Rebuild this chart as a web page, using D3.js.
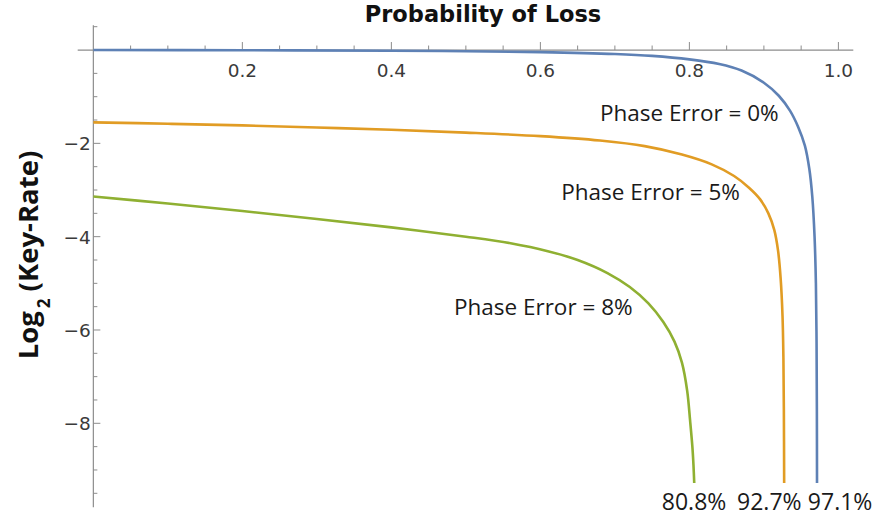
<!DOCTYPE html>
<html><head><meta charset="utf-8">
<script src="https://cdn.jsdelivr.net/npm/d3@7"></script>
<style>body{margin:0;background:#fff}svg{display:block}</style></head>
<body>
<script>
// ---- data ----
const blueLoss = [0, 0.2, 0.4, 0.5, 0.6, 0.7, 0.75, 0.8, 0.84, 0.87, 0.9, 0.92, 0.935, 0.946, 0.955, 0.961, 0.965, 0.968, 0.9698, 0.9707, 0.9711, 0.9713];
const blueRate = [0, -0.005, -0.015, -0.025, -0.045, -0.085, -0.125, -0.2, -0.3, -0.44, -0.7, -0.98, -1.3, -1.65, -2.05, -2.55, -3.15, -4.0, -5.0, -6.3, -7.7, -9.28];

const orangeLoss = [0, 0.1, 0.2, 0.3, 0.4, 0.5, 0.6, 0.68, 0.74, 0.79, 0.83, 0.86, 0.88, 0.895, 0.906, 0.914, 0.919, 0.9225, 0.925, 0.9262, 0.9268, 0.9272];
const orangeRate = [-1.55, -1.58, -1.615, -1.66, -1.71, -1.77, -1.845, -1.94, -2.06, -2.24, -2.45, -2.7, -2.95, -3.2, -3.5, -3.86, -4.3, -4.9, -5.7, -6.6, -7.7, -9.28];

const greenLoss = [0, 0.1, 0.2, 0.3, 0.4, 0.5, 0.56, 0.61, 0.65, 0.69, 0.72, 0.745, 0.765, 0.78, 0.79, 0.797, 0.801, 0.804, 0.8055, 0.8065];
const greenRate = [-3.14, -3.29, -3.45, -3.62, -3.8, -4.0, -4.14, -4.31, -4.5, -4.78, -5.08, -5.43, -5.83, -6.25, -6.7, -7.3, -7.95, -8.5, -8.9, -9.28];

const seriesNames = ["Phase Error = 0%", "Phase Error = 5%", "Phase Error = 8%"];
const cutoffLabels = ["97.1%", "92.7%", "80.8%"];
const xTicks = [0.2, 0.4, 0.6, 0.8, 1.0];
const xTickLabels = ["0.2", "0.4", "0.6", "0.8", "1.0"];
const yTicks = [-2, -4, -6, -8];
const yTickLabels = ["\u22122", "\u22124", "\u22126", "\u22128"];
const titleText = "Probability of Loss";

// ---- layout ----
const W = 876, H = 518;
const x = d3.scaleLinear().domain([-0.021, 1.02]).range([77.7, 853.3]);
const y = d3.scaleLinear().domain([0.53, -9.8]).range([25.3, 507.3]);

const svg = d3.select("body").append("svg").attr("width", W).attr("height", H);

const axisColor = "#8c8c8c", labelColor = "#3a3a3a";
const tickFont = "'DejaVu Sans', sans-serif";
const annFont = "'Open Sans', sans-serif";

// axes lines
svg.append("line").attr("x1", x(-0.021)).attr("x2", x(1.02)).attr("y1", y(0)).attr("y2", y(0))
  .attr("stroke", axisColor).attr("stroke-width", 1.2);
svg.append("line").attr("x1", x(0)).attr("x2", x(0)).attr("y1", y(0.53)).attr("y2", y(-9.8))
  .attr("stroke", axisColor).attr("stroke-width", 1.2);

// x ticks
const xMinor = d3.range(1, 21).map(i => i * 0.05).filter(v => !xTicks.some(t => Math.abs(t - v) < 1e-6));
svg.selectAll(".xminor").data(xMinor).join("line")
  .attr("x1", d => x(d)).attr("x2", d => x(d)).attr("y1", y(0)).attr("y2", y(0) - 4.5)
  .attr("stroke", axisColor).attr("stroke-width", 1);
svg.selectAll(".xmajor").data(xTicks).join("line")
  .attr("x1", d => x(d)).attr("x2", d => x(d)).attr("y1", y(0)).attr("y2", y(0) - 8)
  .attr("stroke", axisColor).attr("stroke-width", 1);
svg.selectAll(".xlab").data(xTicks).join("text")
  .attr("x", d => x(d)).attr("y", y(0) + 27)
  .attr("text-anchor", "middle").attr("font-family", tickFont).attr("font-size", 18.5)
  .attr("fill", labelColor).text((d, i) => xTickLabels[i]);

// y ticks
const yMinor = d3.range(-19, 2).map(i => i * 0.5).filter(v => v !== 0 && !yTicks.includes(v));
svg.selectAll(".yminor").data(yMinor).join("line")
  .attr("x1", x(0)).attr("x2", x(0) + 4).attr("y1", d => y(d)).attr("y2", d => y(d))
  .attr("stroke", axisColor).attr("stroke-width", 1);
svg.selectAll(".ymajor").data(yTicks).join("line")
  .attr("x1", x(0)).attr("x2", x(0) + 7).attr("y1", d => y(d)).attr("y2", d => y(d))
  .attr("stroke", axisColor).attr("stroke-width", 1);
svg.selectAll(".ylab").data(yTicks).join("text")
  .attr("x", x(0) - 2.5).attr("y", d => y(d) + 7)
  .attr("text-anchor", "end").attr("font-family", tickFont).attr("font-size", 18.5)
  .attr("fill", labelColor).text((d, i) => yTickLabels[i]);

// curves
const line = d3.line().x(d => x(d[0])).y(d => y(d[1])).curve(d3.curveCatmullRom.alpha(0.5));
const series = [
  {loss: blueLoss, rate: blueRate, color: "#5e81b5"},
  {loss: orangeLoss, rate: orangeRate, color: "#e19c24"},
  {loss: greenLoss, rate: greenRate, color: "#8fb032"}
];
series.forEach(s => {
  svg.append("path").datum(s.loss.map((v, i) => [v, s.rate[i]]))
    .attr("d", line).attr("fill", "none").attr("stroke", s.color)
    .attr("stroke-width", 2.6).attr("stroke-linejoin", "round");
});

// annotations
const annPos = [[0.680, -1.52], [0.628, -3.21], [0.484, -5.68]];
seriesNames.forEach((t, i) => {
  svg.append("text").attr("x", x(annPos[i][0])).attr("y", y(annPos[i][1]))
    .attr("font-family", annFont).attr("font-size", 22.5).attr("fill", "#1a1a1a").text(t);
});
const cutPos = [0.959, 0.864, 0.763];
cutoffLabels.forEach((t, i) => {
  svg.append("text").attr("x", x(cutPos[i])).attr("y", y(-9.85))
    .attr("font-family", annFont).attr("font-size", 23).attr("fill", "#1a1a1a").text(t);
});

// title
svg.append("text").attr("x", 483).attr("y", 22).attr("text-anchor", "middle")
  .attr("font-family", "'DejaVu Sans', sans-serif").attr("font-weight", "bold").attr("font-size", 22.5)
  .attr("fill", "#111").text(titleText);

// y label
const yl = svg.append("text").attr("transform", "translate(38,255) rotate(-90)")
  .attr("text-anchor", "middle").attr("font-family", "'Open Sans', sans-serif")
  .attr("font-weight", "bold").attr("font-size", 27.5).attr("fill", "#111");
yl.append("tspan").text("Log");
yl.append("tspan").attr("font-size", 17).attr("dy", 12).text("\u20092");
yl.append("tspan").attr("dy", -12).text(" (Key-Rate)");
</script>
</body></html>
